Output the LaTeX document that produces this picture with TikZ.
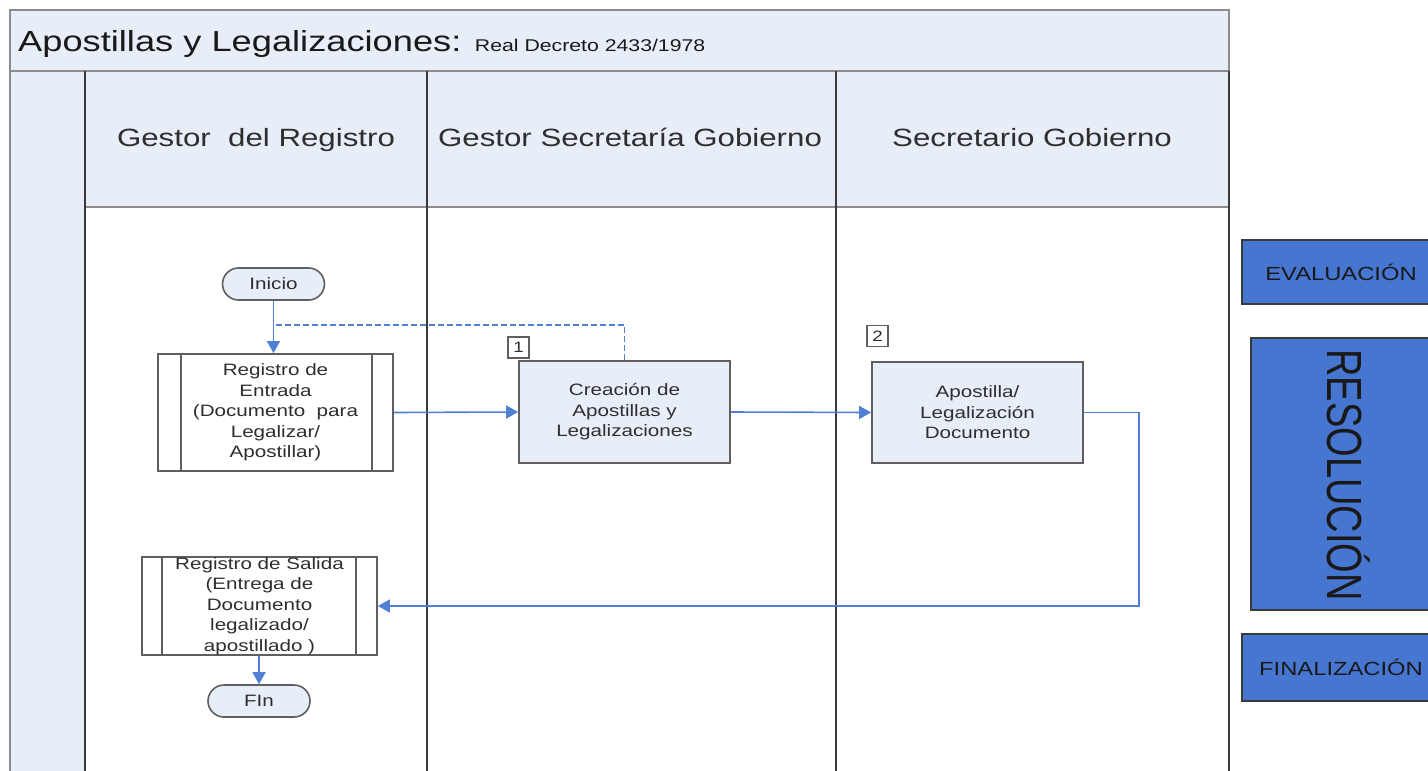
\documentclass[tikz,border=0pt]{standalone}
\usepackage{fontspec}
\usepackage{graphicx}
\setmainfont{Liberation Sans}[FakeStretch=1.25]
\newfontfamily\plainsans{Liberation Sans}
\usetikzlibrary{arrows.meta,calc}
\definecolor{lightfill}{HTML}{E8EEF8}
\definecolor{framegray}{HTML}{8C8C8C}
\definecolor{boxgray}{HTML}{5F5F5F}
\definecolor{lanedark}{HTML}{3A3A3A}
\definecolor{connblue}{HTML}{4F80D4}
\definecolor{royal}{HTML}{4676D0}
\definecolor{txtdark}{HTML}{2E2E2E}
\tikzset{
  nodefont/.style={font=\fontsize{16.5}{20.5}\selectfont, text=txtdark},
  procbox/.style={draw=boxgray, line width=1.8pt, fill=lightfill, inner sep=0pt, align=center, nodefont},
  prebox/.style={draw=boxgray, line width=1.8pt, fill=white, inner sep=0pt, align=center, nodefont},
  terminal/.style={draw=boxgray, line width=1.6pt, fill=lightfill, rounded corners=16pt, inner sep=0pt, minimum width=102pt, minimum height=32pt, nodefont},
  tag/.style={draw=boxgray, line width=1.4pt, fill=white, inner sep=0pt, minimum width=21pt, minimum height=21pt, font=\fontsize{15}{15}\selectfont, text=txtdark},
  conn/.style={draw=connblue, line width=1.6pt, -{Triangle[length=12pt,width=13pt]}},
  dashconn/.style={draw=connblue, line width=1.3pt, dash pattern=on 6pt off 3pt},
  headtext/.style={anchor=base, font=\fontsize{25}{25}\selectfont, text=txtdark},
  phase/.style={draw=lanedark, line width=1.2pt, fill=royal, inner sep=0pt, text=black!90, font=\fontsize{19}{19}\selectfont},
}
\begin{document}
\begin{tikzpicture}[x=1pt,y=-1pt]
\useasboundingbox (0,0) rectangle (1428,771);
\clip (0,0) rectangle (1428,771);
% pool fills
\fill[lightfill] (10,10) rectangle (1229,71);
\fill[lightfill] (10,71) rectangle (85,771);
\fill[lightfill] (85,71) rectangle (1229,207);
% pool lines
\draw[framegray, line width=2pt] (10,775) -- (10,10) -- (1229,10) -- (1229,71);
\draw[framegray, line width=2.2pt] (10,71) -- (1229,71);
\draw[framegray, line width=2pt] (85,207) -- (1229,207);
\draw[lanedark, line width=1.6pt] (85,71) -- (85,775);
\draw[lanedark, line width=1.2pt] (427,71) -- (427,775);
\draw[lanedark, line width=1.2pt] (836,71) -- (836,775);
\draw[lanedark, line width=2.6pt] (1229,71) -- (1229,775);
% title
\node[anchor=base west, inner sep=0pt, text=black!90, font=\fontsize{29}{29}\selectfont] (title) at (18,51)
  {Apostillas y Legalizaciones: {\fontsize{17}{17}\selectfont Real Decreto 2433/1978}};
% lane headers
\node[headtext] (h1) at (256,146) {Gestor~ del Registro};
\node[headtext] (h2) at (630,146) {Gestor Secretaría Gobierno};
\node[headtext] (h3) at (1032,146) {Secretario Gobierno};
% flow nodes
\node[terminal] (inicio) at (273.5,284) {Inicio};
\node[prebox, minimum width=235pt, minimum height=117pt] (regin) at (275.5,412.5)
  {Registro de\\Entrada\\(Documento~ para\\Legalizar/\\Apostillar)};
\draw[boxgray, line width=1.5pt] ($(regin.north west)+(24,0)$) -- ($(regin.south west)+(24,0)$);
\draw[boxgray, line width=1.5pt] ($(regin.north east)+(-22,0)$) -- ($(regin.south east)+(-22,0)$);
\node[procbox, minimum width=211pt, minimum height=102pt] (crea) at (624.5,412)
  {Creación de\\Apostillas y\\Legalizaciones};
\node[tag] (t1) at (518.5,347.5) {1};
\node[procbox, minimum width=211pt, minimum height=101pt] (apos) at (977.5,412.5)
  {Apostilla/\\Legalización\\Documento};
\node[tag] (t2) at (877.5,336) {2};
\node[prebox, minimum width=235pt, minimum height=98pt] (regout) at (259.5,606)
  {Registro de Salida\\(Entrega de\\Documento\\legalizado/\\apostillado )};
\draw[boxgray, line width=1.5pt] ($(regout.north west)+(21,0)$) -- ($(regout.south west)+(21,0)$);
\draw[boxgray, line width=1.5pt] ($(regout.north east)+(-22,0)$) -- ($(regout.south east)+(-22,0)$);
\node[terminal] (fin) at (259,701) {FIn};
% connectors
\coordinate (dj) at (273.5,325);
\coordinate (turn) at (1139,606);
\draw[conn] (inicio.south) -- (regin.north -| inicio.south);
\draw[dashconn] (crea.north) |- (dj);
\draw[conn] (regin.east) -- (crea.west);
\draw[conn] (crea.east) -- (apos.west);
\draw[conn] (apos.east) -| (turn) -- (regout.east);
\draw[conn] (regout.south -| fin.north) -- (fin.north);
% phases
\node[phase, minimum width=198pt, minimum height=64pt] (eval) at (1341,272) {EVALUACIÓN};
\node[phase, minimum width=189pt, minimum height=272pt] (reso) at (1345.5,474) {};
\node[inner sep=0pt, text=black!90] (resotext) at (1349,475)
  {\rotatebox{-90}{\scalebox{1}[1.3]{\plainsans\fontsize{38}{38}\selectfont RESOLUCIÓN}}};
\node[phase, minimum width=198pt, minimum height=67pt] (fina) at (1341,667.5) {FINALIZACIÓN};
\end{tikzpicture}
\end{document}
